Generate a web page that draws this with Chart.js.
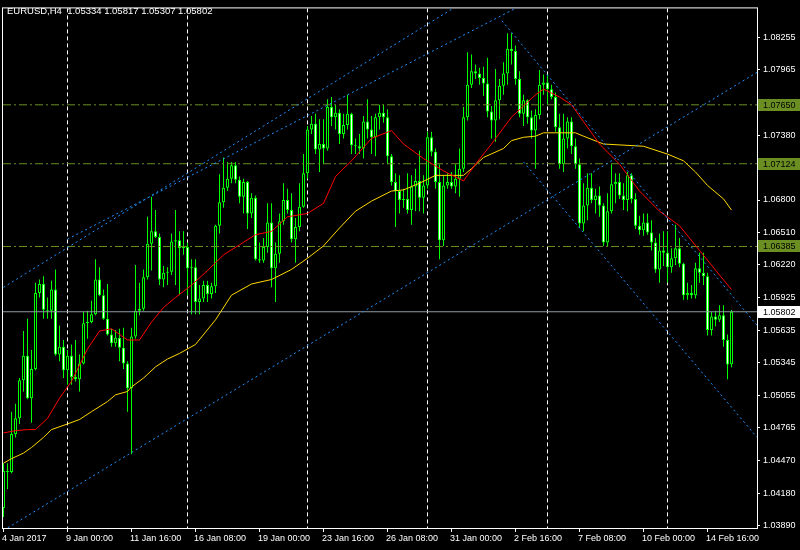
<!DOCTYPE html>
<html>
<head>
<meta charset="utf-8">
<title>EURUSD,H4</title>
<script src="https://cdn.jsdelivr.net/npm/chart.js@4.4.1/dist/chart.umd.min.js"></script>
<style>
  html, body { margin: 0; padding: 0; background: #000; }
  canvas { display: block; }
</style>
</head>
<body>
<canvas id="grafico" width="800" height="550"></canvas>
<script>
// dados do grafico (EURUSD H4, 4 jan - 15 fev 2017)
const simbolo = 'EURUSD,H4';

const abertura = [
  1.0405,1.0438,1.0437,1.0471,1.0485,1.0519,1.0541,1.0503,1.0529,1.0597,
  1.0605,1.0582,1.0581,1.0600,1.0542,1.0549,1.0528,1.0541,1.0522,1.0520,
  1.0534,1.0570,1.0571,1.0578,1.0609,1.0595,1.0574,1.0560,1.0552,1.0557,
  1.0548,1.0534,1.0512,1.0558,1.0581,1.0583,1.0611,1.0641,1.0652,1.0647,
  1.0609,1.0615,1.0616,1.0643,1.0644,1.0637,1.0638,1.0619,1.0620,1.0589,
  1.0592,1.0604,1.0596,1.0603,1.0657,1.0678,1.0691,1.0699,1.0711,1.0698,
  1.0683,1.0696,1.0668,1.0682,1.0627,1.0626,1.0638,1.0660,1.0619,1.0632,
  1.0661,1.0680,1.0671,1.0645,1.0656,1.0674,1.0704,1.0743,1.0748,1.0725,
  1.0730,1.0726,1.0763,1.0754,1.0758,1.0739,1.0747,1.0757,1.0729,1.0728,
  1.0726,1.0750,1.0743,1.0736,1.0754,1.0758,1.0754,1.0719,1.0696,1.0688,
  1.0680,1.0681,1.0671,1.0692,1.0697,1.0682,1.0693,1.0736,1.0723,1.0696,
  1.0644,1.0693,1.0696,1.0692,1.0699,1.0708,1.0754,1.0783,1.0795,1.0793,
  1.0789,1.0784,1.0759,1.0751,1.0769,1.0782,1.0793,1.0815,1.0813,1.0788,
  1.0757,1.0769,1.0754,1.0742,1.0756,1.0783,1.0785,1.0779,1.0772,1.0745,
  1.0712,1.0735,1.0750,1.0728,1.0712,1.0659,1.0675,1.0691,1.0680,1.0684,
  1.0675,1.0642,1.0670,1.0694,1.0696,1.0684,1.0680,1.0702,1.0681,1.0657,
  1.0653,1.0660,1.0651,1.0642,1.0618,1.0635,1.0633,1.0620,1.0628,1.0637,
  1.0623,1.0595,1.0597,1.0595,1.0619,1.0615,1.0612,1.0564,1.0576,1.0573,
  1.0577,1.0555,1.05334
];
const maxima = [
  1.0445,1.0445,1.0491,1.0498,1.0521,1.0563,1.0574,1.0546,1.0606,1.0609,
  1.0612,1.0593,1.0608,1.0618,1.0568,1.0555,1.0546,1.0551,1.0555,1.0542,
  1.0580,1.0581,1.0590,1.0627,1.0620,1.0600,1.0605,1.0565,1.0564,1.0565,
  1.0566,1.0536,1.0566,1.0622,1.0606,1.0618,1.0665,1.0683,1.0671,1.0650,
  1.0621,1.0620,1.0650,1.0671,1.0652,1.0652,1.0642,1.0627,1.0627,1.0604,
  1.0608,1.0608,1.0606,1.0658,1.0703,1.0718,1.0714,1.0714,1.0714,1.0701,
  1.0699,1.0697,1.0686,1.0684,1.0642,1.0646,1.0677,1.0677,1.0642,1.0668,
  1.0695,1.0690,1.0686,1.0664,1.0695,1.0721,1.0746,1.0755,1.0757,1.0752,
  1.0752,1.0770,1.0772,1.0765,1.0761,1.0757,1.0774,1.0758,1.0735,1.0739,
  1.0755,1.0770,1.0755,1.0757,1.0765,1.0765,1.0761,1.0721,1.0704,1.0702,
  1.0690,1.0704,1.0702,1.0708,1.0724,1.0702,1.0741,1.0741,1.0726,1.0712,
  1.0702,1.0704,1.0705,1.0712,1.0726,1.0763,1.0812,1.0810,1.0801,1.0798,
  1.0799,1.0807,1.0764,1.0797,1.0788,1.0803,1.0829,1.0829,1.0818,1.0795,
  1.0774,1.0770,1.0760,1.0761,1.0796,1.0792,1.0792,1.0783,1.0776,1.0757,
  1.0757,1.0754,1.0754,1.0735,1.0717,1.0695,1.0704,1.0704,1.0690,1.0692,
  1.0677,1.0686,1.0712,1.0704,1.0704,1.0695,1.0705,1.0704,1.0686,1.0666,
  1.0668,1.0668,1.0662,1.0646,1.0650,1.0652,1.0652,1.0637,1.0658,1.0646,
  1.0624,1.0606,1.0604,1.0624,1.0633,1.0633,1.0615,1.0580,1.0581,1.0586,
  1.0586,1.0560,1.05817
];
const minima = [
  1.0397,1.0422,1.0436,1.0468,1.0480,1.0509,1.0502,1.0481,1.0528,1.0593,
  1.0574,1.0574,1.0574,1.0541,1.0536,1.0521,1.0515,1.0515,1.0518,1.0509,
  1.0533,1.0556,1.0570,1.0577,1.0594,1.0573,1.0559,1.0549,1.0549,1.0536,
  1.0529,1.0491,1.0453,1.0556,1.0577,1.0581,1.0609,1.0617,1.0646,1.0604,
  1.0602,1.0604,1.0613,1.0604,1.0595,1.0631,1.0595,1.0578,1.0578,1.0578,
  1.0589,1.0589,1.0592,1.0597,1.0650,1.0673,1.0688,1.0695,1.0695,1.0677,
  1.0668,1.0654,1.0664,1.0626,1.0624,1.0624,1.0633,1.0602,1.0589,1.0624,
  1.0658,1.0668,1.0642,1.0624,1.0652,1.0673,1.0699,1.0739,1.0721,1.0705,
  1.0712,1.0724,1.0746,1.0743,1.0730,1.0735,1.0743,1.0721,1.0721,1.0721,
  1.0717,1.0735,1.0721,1.0719,1.0743,1.0749,1.0712,1.0693,1.0656,1.0668,
  1.0673,1.0668,1.0658,1.0670,1.0670,1.0668,1.0690,1.0719,1.0690,1.0627,
  1.0639,1.0690,1.0690,1.0686,1.0683,1.0705,1.0751,1.0780,1.0788,1.0783,
  1.0773,1.0754,1.0735,1.0732,1.0752,1.0774,1.0783,1.0801,1.0783,1.0754,
  1.0746,1.0748,1.0735,1.0708,1.0752,1.0774,1.0765,1.0770,1.0741,1.0708,
  1.0705,1.0726,1.0721,1.0708,1.0655,1.0652,1.0662,1.0677,1.0668,1.0665,
  1.0639,1.0639,1.0668,1.0677,1.0681,1.0671,1.0670,1.0677,1.0654,1.0649,
  1.0648,1.0649,1.0635,1.0615,1.0606,1.0621,1.0606,1.0615,1.0622,1.0620,
  1.0591,1.0591,1.0592,1.0592,1.0606,1.0604,1.0559,1.0559,1.0567,1.0571,
  1.0549,1.0520,1.05307
];
const fechamento = [
  1.0438,1.0437,1.0471,1.0485,1.0519,1.0541,1.0503,1.0529,1.0597,1.0605,
  1.0582,1.0581,1.0600,1.0542,1.0549,1.0528,1.0541,1.0522,1.0520,1.0534,
  1.0570,1.0571,1.0578,1.0609,1.0595,1.0574,1.0560,1.0552,1.0557,1.0548,
  1.0534,1.0512,1.0558,1.0581,1.0583,1.0611,1.0641,1.0652,1.0647,1.0609,
  1.0615,1.0616,1.0643,1.0644,1.0637,1.0638,1.0619,1.0620,1.0589,1.0592,
  1.0604,1.0596,1.0603,1.0657,1.0678,1.0691,1.0699,1.0711,1.0698,1.0683,
  1.0696,1.0668,1.0682,1.0627,1.0626,1.0638,1.0660,1.0619,1.0632,1.0661,
  1.0680,1.0671,1.0645,1.0656,1.0674,1.0704,1.0743,1.0748,1.0725,1.0730,
  1.0726,1.0763,1.0754,1.0758,1.0739,1.0747,1.0757,1.0729,1.0728,1.0726,
  1.0750,1.0743,1.0736,1.0754,1.0758,1.0754,1.0719,1.0696,1.0688,1.0680,
  1.0681,1.0671,1.0692,1.0697,1.0682,1.0693,1.0736,1.0723,1.0696,1.0644,
  1.0693,1.0696,1.0692,1.0699,1.0708,1.0754,1.0783,1.0795,1.0793,1.0789,
  1.0784,1.0759,1.0751,1.0769,1.0782,1.0793,1.0815,1.0813,1.0788,1.0757,
  1.0769,1.0754,1.0742,1.0756,1.0783,1.0785,1.0779,1.0772,1.0745,1.0712,
  1.0735,1.0750,1.0728,1.0712,1.0659,1.0675,1.0691,1.0680,1.0684,1.0675,
  1.0642,1.0670,1.0694,1.0696,1.0684,1.0680,1.0702,1.0681,1.0657,1.0653,
  1.0660,1.0651,1.0642,1.0618,1.0635,1.0633,1.0620,1.0628,1.0637,1.0623,
  1.0595,1.0597,1.0595,1.0619,1.0615,1.0612,1.0564,1.0576,1.0573,1.0577,
  1.0555,1.0533,1.05802
];

// medias moveis (indice da barra -> preco)
const mediaRapidaBarras = [0,3,6,8,11,14,17,21,24,27,31,34,37,40,43,47,51,55,59,63,67,71,76,80,83,87,92,97,100,105,110,115,118,122,127,133,135,139,142,145,149,154,159,164,169,174,179,182];
const mediaRapidaValores = [1.0472,1.0474,1.0475,1.0475,1.0485,1.0503,1.0518,1.0547,1.0563,1.0565,1.0555,1.0555,1.0571,1.0584,1.0593,1.0604,1.0617,1.0631,1.0640,1.0649,1.0652,1.0665,1.0668,1.0677,1.0701,1.0715,1.0735,1.0742,1.0730,1.0717,1.0706,1.0697,1.0712,1.0730,1.0754,1.0774,1.0779,1.0772,1.0765,1.0750,1.0730,1.0712,1.0688,1.0670,1.0657,1.0635,1.0613,1.0600];
const mediaLentaBarras = [0,2,5,7,10,12,16,19,22,26,28,31,32,35,38,41,44,48,53,57,62,67,72,76,80,84,88,92,97,100,104,108,115,117,120,125,127,130,133,135,143,145,150,160,166,170,173,176,180,182];
const mediaLentaValores = [1.0445,1.0449,1.0454,1.0459,1.0468,1.0475,1.0480,1.0484,1.0491,1.0500,1.0506,1.0509,1.0513,1.0521,1.0531,1.0538,1.0543,1.0551,1.0573,1.0595,1.0605,1.0609,1.0618,1.0628,1.0639,1.0655,1.0670,1.0679,1.0688,1.0689,1.0695,1.0702,1.0702,1.0708,1.0718,1.0726,1.0733,1.0736,1.0737,1.0740,1.0740,1.0737,1.0730,1.0728,1.0721,1.0715,1.0705,1.0693,1.0681,1.0671];

// linhas de tendencia [barra, preco]
const canalAltaSup1 = [[0, 1.0602], [120, 1.0868]];
const canalAltaSup2 = [[16, 1.0645], [135, 1.0864]];
const canalAltaInf = [[0, 1.0385], [188.4, 1.0794]];
const canalBaixaSup = [[124.6, 1.0840], [188.4, 1.0568]];
const canalBaixaInf = [[130, 1.0714], [188.4, 1.0468]];

// niveis horizontais e preco atual
const niveis = [1.07650, 1.07124, 1.06385];
const precoBid = 1.05802;

// eixos
const ticksPreco = [1.08255,1.07965,1.07675,1.07380,1.07090,1.06800,1.06510,1.06220,1.05925,1.05635,1.05345,1.05055,1.04765,1.04470,1.04180,1.03890];
const ticksBarras = [0,16,32,48,64,80,96,112,128,144,160,176];
const rotulosTempo = ['4 Jan 2017','9 Jan 00:00','11 Jan 16:00','16 Jan 08:00','19 Jan 00:00','23 Jan 16:00','26 Jan 08:00','31 Jan 00:00','2 Feb 16:00','7 Feb 08:00','10 Feb 00:00','14 Feb 16:00'];
const gradeSemanal = [16,46,76,106,136,166];

// aparencia
const verde = '#00ff00';
const corNivel = '#6b8e23';
const azul = '#1e90ff';
const fonte = { family: "'Liberation Sans', Arial, sans-serif", size: 9 };
const fonteCss = "9px 'Liberation Sans', Arial, sans-serif";
const fonteTitulo = "9.5px 'Liberation Sans', Arial, sans-serif";

// monta os candles
const pavios = maxima.map((h, i) => ({ x: i, y: [minima[i], h] }));
const corposAlta = [];
const corposBaixa = [];
abertura.forEach((o, i) => {
    const c = fechamento[i];
    if (c >= o) corposAlta.push({ x: i, y: [o, c] });
    else corposBaixa.push({ x: i, y: [c, o] });
});

function pontos(lista) {
    return lista.map(([x, y]) => ({ x, y }));
}

function linha(dados, cor, tracejado, ordem) {
    return {
        type: 'line',
        data: dados,
        borderColor: cor,
        borderWidth: 1,
        borderDash: tracejado,
        pointRadius: 0,
        tension: 0,
        fill: false,
        clip: 0,
        order: ordem
    };
}

function corpo(dados, fundo) {
    return {
        type: 'bar',
        data: dados,
        backgroundColor: fundo,
        borderColor: verde,
        borderWidth: 1,
        borderSkipped: false,
        barThickness: 3,
        minBarLength: 1,
        inflateAmount: 0,
        grouped: false,
        order: 9
    };
}

const datasets = [
    {
        type: 'bar',
        data: pavios,
        backgroundColor: verde,
        borderWidth: 0,
        barThickness: 1,
        inflateAmount: 0,
        grouped: false,
        order: 10
    },
    corpo(corposAlta, '#000000'),
    corpo(corposBaixa, '#ffffff'),
    ...niveis.map(n => linha([{ x: -0.125, y: n }, { x: 188.375, y: n }], corNivel, [8, 3, 2, 3], 6)),
    linha([{ x: -0.125, y: precoBid }, { x: 188.375, y: precoBid }], '#8f9aa5', [], 5),
    linha(mediaLentaBarras.map((b, k) => ({ x: b, y: mediaLentaValores[k] })), '#ffd700', [], 4),
    linha(mediaRapidaBarras.map((b, k) => ({ x: b, y: mediaRapidaValores[k] })), '#ff0000', [], 3),
    linha(pontos(canalAltaSup1), azul, [2, 3], 2),
    linha(pontos(canalAltaSup2), azul, [2, 3], 2),
    linha(pontos(canalAltaInf), azul, [2, 3], 2),
    linha(pontos(canalBaixaSup), azul, [2, 3], 2),
    linha(pontos(canalBaixaInf), azul, [2, 3], 2)
];

// fundo, grade semanal, moldura, etiquetas e titulo
const decoracao = {
    id: 'decoracao',
    beforeDraw(chart) {
        const { ctx, width, height } = chart;
        ctx.save();
        ctx.fillStyle = '#000';
        ctx.fillRect(0, 0, width, height);
        ctx.restore();
    },
    beforeDatasetsDraw(chart) {
        const { ctx, chartArea: a, scales } = chart;
        ctx.save();
        ctx.strokeStyle = '#ffffff';
        ctx.lineWidth = 1;
        ctx.setLineDash([4, 3]);
        gradeSemanal.forEach(b => {
            const px = Math.floor(scales.x.getPixelForValue(b)) + 0.5;
            ctx.beginPath();
            ctx.moveTo(px, a.top);
            ctx.lineTo(px, a.bottom);
            ctx.stroke();
        });
        ctx.restore();
    },
    afterDraw(chart) {
        const { ctx, chartArea: a, scales } = chart;
        ctx.save();
        ctx.strokeStyle = '#ffffff';
        ctx.lineWidth = 1;
        ctx.setLineDash([]);
        ctx.strokeRect(a.left - 0.5, a.top - 0.5, a.right - a.left + 1, a.bottom - a.top + 1);

        ctx.font = fonteCss;
        ctx.textBaseline = 'middle';
        const etiqueta = (preco, fundo) => {
            const y = Math.round(scales.y.getPixelForValue(preco));
            ctx.fillStyle = fundo;
            ctx.fillRect(a.right + 1, y - 6, chart.width - a.right - 1, 12);
            ctx.fillStyle = '#000';
            ctx.fillText(preco.toFixed(5), a.right + 6, y + 0.5);
        };
        niveis.forEach(n => etiqueta(n, corNivel));
        etiqueta(precoBid, '#ffffff');

        const ult = fechamento.length - 1;
        const ohlc = [abertura[ult], maxima[ult], minima[ult], fechamento[ult]].map(v => v.toFixed(5)).join(' ');
        ctx.font = fonteTitulo;
        ctx.fillStyle = '#ffffff';
        ctx.textBaseline = 'alphabetic';
        ctx.fillText(simbolo + '  ' + ohlc, 7, 14);
        ctx.restore();
    }
};

const contexto = document.getElementById('grafico').getContext('2d');
new Chart(contexto, {
    type: 'bar',
    data: { datasets },
    options: {
        responsive: false,
        animation: false,
        devicePixelRatio: 1,
        events: [],
        layout: { padding: { left: 3, top: 3, right: 0, bottom: 0 } },
        plugins: {
            legend: { display: false },
            tooltip: { enabled: false },
            title: { display: false }
        },
        scales: {
            x: {
                type: 'linear',
                min: -0.125,
                max: 188.375,
                offset: false,
                grid: { drawOnChartArea: false, tickLength: 4, color: '#ffffff', offset: false },
                border: { display: false },
                ticks: {
                    color: '#ffffff',
                    font: fonte,
                    autoSkip: false,
                    maxRotation: 0,
                    minRotation: 0,
                    align: 'start',
                    labelOffset: -1.5,
                    padding: 1,
                    callback: (v, i) => rotulosTempo[i]
                },
                afterBuildTicks: s => { s.ticks = ticksBarras.map(v => ({ value: v })); },
                afterFit: s => { s.height = 22; }
            },
            y: {
                type: 'linear',
                position: 'right',
                min: 1.03871,
                max: 1.08511,
                beginAtZero: false,
                grid: { drawOnChartArea: false, tickLength: 3, color: '#ffffff' },
                border: { display: false },
                ticks: {
                    color: '#ffffff',
                    font: fonte,
                    autoSkip: false,
                    padding: 3,
                    callback: v => Number(v).toFixed(5)
                },
                afterBuildTicks: s => { s.ticks = ticksPreco.map(v => ({ value: v })); },
                afterFit: s => { s.width = 43; }
            }
        }
    },
    plugins: [decoracao]
});
</script>
</body>
</html>
